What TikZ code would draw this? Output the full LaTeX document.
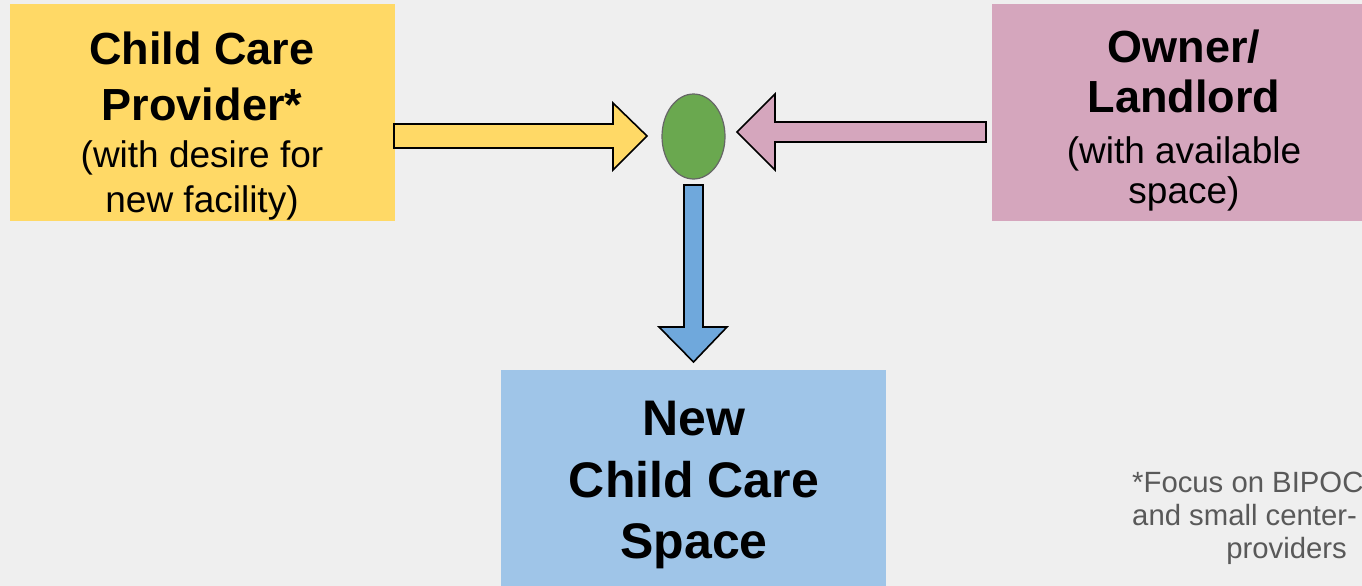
\documentclass[tikz,border=0pt]{standalone}
\usepackage{fontspec}
\setmainfont{Liberation Sans}
\usetikzlibrary{shapes.geometric}
\definecolor{bgc}{HTML}{EFEFEF}
\definecolor{yel}{HTML}{FFD966}
\definecolor{pnk}{HTML}{D5A6BD}
\definecolor{lblu}{HTML}{9FC5E8}
\definecolor{dblu}{HTML}{6FA8DC}
\definecolor{grn}{HTML}{6AA84F}
\definecolor{ftg}{HTML}{595959}
\tikzset{
  box/.style={draw=none,inner sep=0pt},
  boldtxt/.style={anchor=base,inner sep=0pt,font=\fontsize{45}{54}\selectfont\bfseries},
  bigtxt/.style={anchor=base,inner sep=0pt,font=\fontsize{50}{60}\selectfont\bfseries},
  regtxt/.style={anchor=base,inner sep=0pt,font=\fontsize{37}{44}\selectfont},
  blockarrow/.style={draw=black,line width=1.6pt,line join=miter},
  foot/.style={anchor=base west,inner sep=0pt,text=ftg,font=\fontsize{29.3}{34}\selectfont}
}
\begin{document}
\begin{tikzpicture}[x=1pt,y=-1pt]
\useasboundingbox (0,0) rectangle (1362,586);
\fill[bgc] (0,0) rectangle (1362,586);
% boxes
\fill[yel] (10,4) rectangle (395,221);
\coordinate (prov) at (202.5,112.5);
\fill[pnk] (992,4) rectangle (1362,221);
\coordinate (owner) at (1177,112.5);
\fill[lblu] (501,370) rectangle (886,586);
\coordinate (space) at (693.5,478);
% hub
\node[ellipse,draw=black!60,line width=1.2pt,fill=grn,minimum width=63pt,minimum height=85pt,inner sep=0pt] (hub) at (693.5,136.5) {};
% texts
\node[boldtxt] (p1) at (202,65) {Child Care};
\node[boldtxt] (p2) at (202,120) {Provider*};
\node[regtxt] (p3) at (202,167) {(with desire for};
\node[regtxt] (p4) at (202,212) {new facility)};
\node[boldtxt] (o1) at (1184,63) {Owner/};
\node[boldtxt] (o2) at (1184,112) {Landlord};
\node[regtxt] (o3) at (1184,163) {(with available};
\node[regtxt] (o4) at (1184,203) {space)};
\node[bigtxt] (s1) at (694,435) {New};
\node[bigtxt] (s2) at (694,497) {Child Care};
\node[bigtxt] (s3) at (694,558) {Space};
\node[foot] (f1) at (1132,492) {*Focus on BIPOC};
\node[foot] (f2) at (1132,525) {and small center-};
\node[foot,anchor=base east] (f3) at (1347,558) {providers};
% arrows
\draw[blockarrow,fill=yel] (394,124) -- (613,124) -- (613,103) -- (647,136) -- (613,170) -- (613,148) -- (394,148) -- cycle;
\draw[blockarrow,fill=pnk] (986,122) -- (775,122) -- (775,94) -- (737,132) -- (775,170) -- (775,142) -- (986,142) -- cycle;
\draw[blockarrow,fill=dblu] (684,185) -- (703,185) -- (703,327) -- (727,327) -- (693.5,362) -- (659,327) -- (684,327) -- cycle;
\end{tikzpicture}
\end{document}
